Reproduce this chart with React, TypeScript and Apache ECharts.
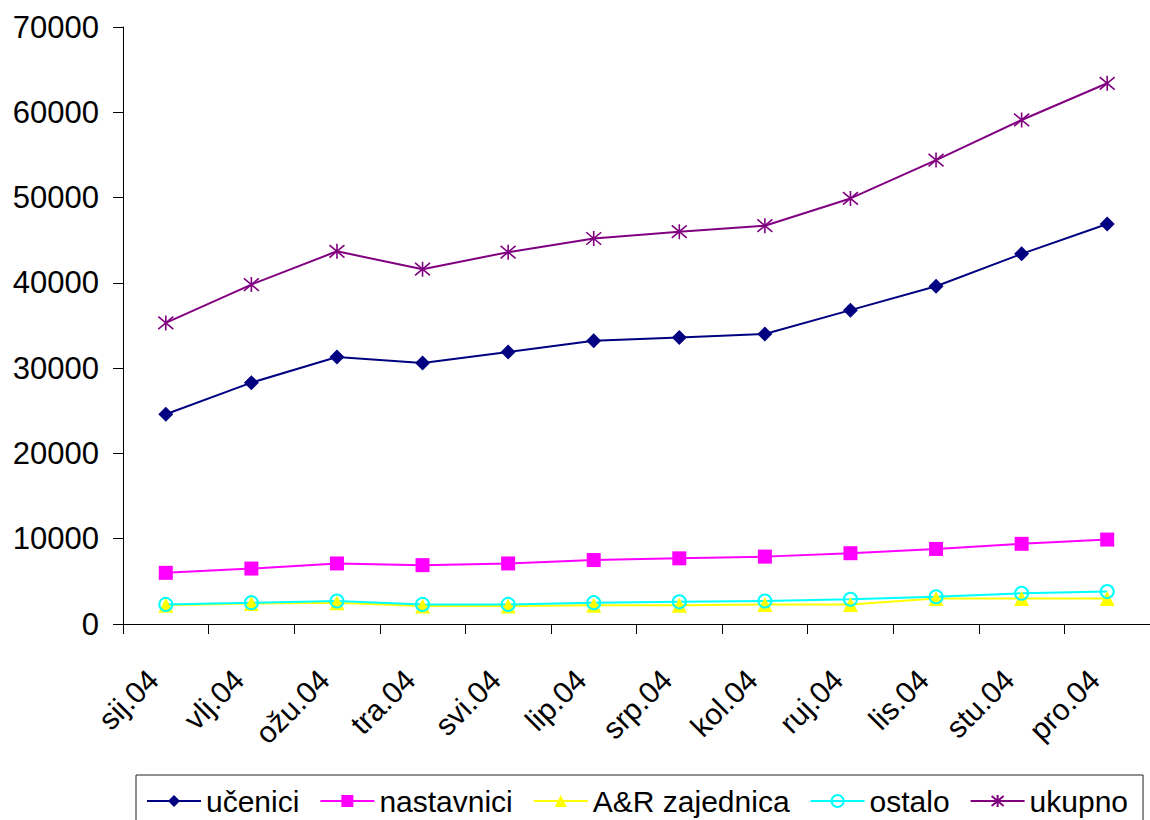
import React, { useEffect, useRef } from "react";
import * as echarts from "echarts";

const categories = ["sij.04", "vlj.04", "ožu.04", "tra.04", "svi.04", "lip.04", "srp.04", "kol.04", "ruj.04", "lis.04", "stu.04", "pro.04"];
const ucenici = [24600, 28300, 31300, 30600, 31900, 33200, 33600, 34000, 36800, 39600, 43400, 46900];
const nastavnici = [6000, 6500, 7100, 6900, 7100, 7500, 7700, 7900, 8300, 8800, 9400, 9900];
const arZajednica = [2200, 2400, 2500, 2100, 2100, 2200, 2200, 2300, 2300, 3000, 3000, 3000];
const ostalo = [2300, 2500, 2700, 2300, 2300, 2500, 2600, 2700, 2900, 3200, 3600, 3800];
const ukupno = [35300, 39800, 43700, 41600, 43600, 45200, 46000, 46700, 49900, 54400, 59100, 63400];
const yMin = 0;
const yMax = 70000;
const yStep = 10000;

const FONT = "'Liberation Sans', Arial, sans-serif";
const STAR = "path://M0,0L10,10M10,0L0,10M5,-1L5,11";

export default function App() {
  const ref = useRef<HTMLDivElement>(null);
  useEffect(() => {
    if (!ref.current) return;
    const chart = echarts.init(ref.current, undefined, { renderer: "svg" });
    chart.setOption({
      animation: false,
      backgroundColor: "#ffffff",
      textStyle: { fontFamily: FONT },
      grid: { left: 123, top: 27, width: 1036, height: 597, containLabel: false },
      xAxis: {
        type: "category",
        data: categories,
        boundaryGap: true,
        axisLine: { lineStyle: { color: "#000", width: 1 } },
        axisTick: { show: true, length: 10, lineStyle: { color: "#000" } },
        axisLabel: {
          rotate: 45,
          interval: 0,
          margin: 38,
          padding: [0, 18, 0, 0],
          fontSize: 30,
          fontFamily: FONT,
          color: "#000",
        },
        splitLine: { show: false },
      },
      yAxis: {
        type: "value",
        min: yMin,
        max: yMax,
        interval: yStep,
        axisLine: { show: true, lineStyle: { color: "#000", width: 1 } },
        axisTick: { show: true, length: 10, lineStyle: { color: "#000" } },
        axisLabel: {
          margin: 24,
          fontSize: 31,
          fontFamily: FONT,
          color: "#000",
          formatter: (v: number) => String(v),
        },
        splitLine: { show: false },
      },
      legend: {
        left: 136,
        top: 775,
        orient: "horizontal",
        padding: [11, 15, 11, 10],
        itemGap: 20,
        itemWidth: 54,
        itemHeight: 15,
        borderColor: "#222",
        borderWidth: 1,
        textStyle: { fontSize: 30, fontFamily: FONT, color: "#000" },
        data: ["učenici", "nastavnici", "A&R zajednica", "ostalo", "ukupno"],
      },
      series: [
        {
          name: "učenici",
          type: "line",
          data: ucenici,
          symbol: "diamond",
          symbolSize: 15,
          itemStyle: { color: "#000080" },
          lineStyle: { color: "#000080", width: 2 },
        },
        {
          name: "nastavnici",
          type: "line",
          data: nastavnici,
          symbol: "rect",
          symbolSize: 14,
          itemStyle: { color: "#FF00FF" },
          lineStyle: { color: "#FF00FF", width: 2 },
        },
        {
          name: "A&R zajednica",
          type: "line",
          data: arZajednica,
          symbol: "triangle",
          symbolSize: 15,
          itemStyle: { color: "#FFFF00" },
          lineStyle: { color: "#FFFF00", width: 2 },
        },
        {
          name: "ostalo",
          type: "line",
          data: ostalo,
          symbol: "circle",
          symbolSize: 13,
          itemStyle: { color: "rgba(0,0,0,0)", borderColor: "#00FFFF", borderWidth: 2 },
          lineStyle: { color: "#00FFFF", width: 2 },
        },
        {
          name: "ukupno",
          type: "line",
          data: ukupno,
          symbol: STAR,
          symbolSize: 15,
          itemStyle: { color: "rgba(0,0,0,0)", borderColor: "#800080", borderWidth: 1.6 },
          lineStyle: { color: "#800080", width: 2 },
        },
      ],
    });
    return () => chart.dispose();
  }, []);
  return (
    <div
      ref={ref}
      style={{ position: "absolute", left: 0, top: 0, width: 1150, height: 820, overflow: "hidden" }}
    />
  );
}
